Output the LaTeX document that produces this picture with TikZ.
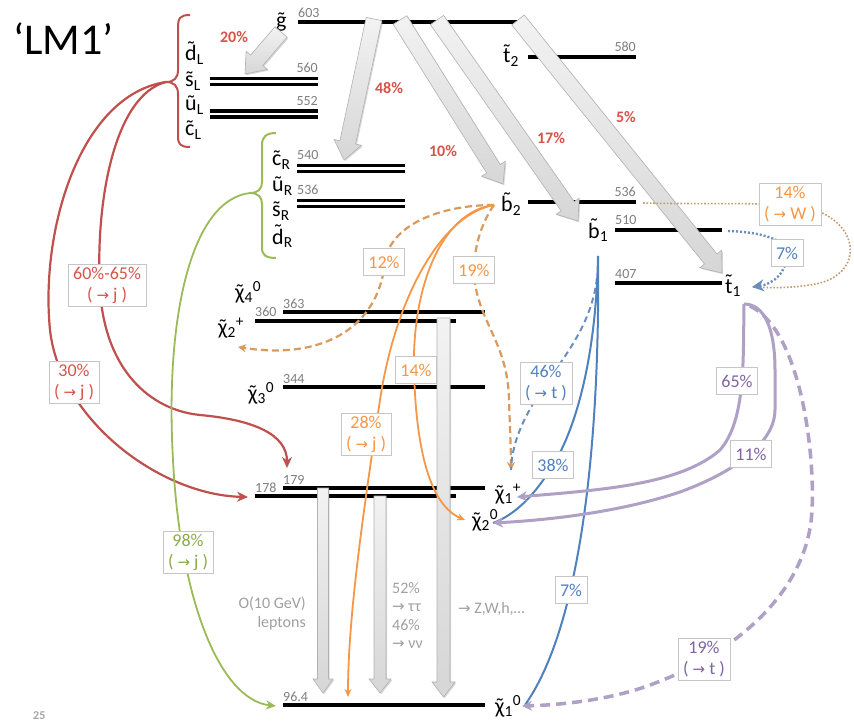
\documentclass[tikz,border=0pt]{standalone}
\usepackage{fontspec}
\setmainfont{Carlito}
\newfontfamily\arrowfont{DejaVu Sans}
\usetikzlibrary{calc,arrows.meta,shadows}
\definecolor{cred}{HTML}{C0504D}
\definecolor{credt}{HTML}{DA524C}
\definecolor{cgreen}{HTML}{9BBB59}
\definecolor{cgreent}{HTML}{8AAA4A}
\definecolor{corange}{HTML}{F79646}
\definecolor{cordash}{HTML}{D99A5E}
\definecolor{cbrown}{HTML}{C49A6C}
\definecolor{cblue}{HTML}{4F81BD}
\definecolor{cbluedash}{HTML}{6A8FBF}
\definecolor{cpurple}{HTML}{AFA0C6}
\definecolor{cpurplet}{HTML}{8064A2}
\definecolor{cnum}{HTML}{7F7F7F}
\definecolor{cgraytext}{HTML}{A0A0A0}
\newcommand{\sqt}[1]{{\accent"02DC #1}}
\newcommand{\rarr}{{\arrowfont\fontsize{15}{15}\selectfont →}}
\newcommand{\fatarrow}[5]{%
  \coordinate (fa-s) at #1; \coordinate (fa-t) at #2;
  \coordinate (fa-h) at ($(fa-t)!#5!(fa-s)$);
  \path[fat] ($(fa-s)!#3!90:(fa-t)$) -- ($(fa-h)!#3!-90:(fa-s)$) -- ($(fa-h)!#4!-90:(fa-s)$) -- (fa-t) -- ($(fa-h)!#4!90:(fa-s)$) -- ($(fa-h)!#3!90:(fa-s)$) -- ($(fa-s)!#3!-90:(fa-t)$) -- cycle;}
\begin{document}
\begin{tikzpicture}[x=1pt,y=-1pt,
  lvl/.style={line width=3.5pt,black},
  numlab/.style={font=\fontsize{14}{14}\selectfont,text=cnum,inner sep=0pt},
  part/.style={font=\fontsize{22}{22}\selectfont,inner sep=0pt},
  redpct/.style={font=\bfseries\fontsize{16}{16}\selectfont,text=credt,inner sep=0pt},
  lab/.style={draw=gray!45,fill=white,line width=0.6pt,inner xsep=5pt,inner ysep=3pt,align=center,font=\fontsize{18}{21}\selectfont,minimum height=27pt},
  graytxt/.style={font=\fontsize{16}{18.5}\selectfont,text=cgraytext,inner sep=0pt},
  fat/.style={draw=gray!60,line width=0.6pt,top color=gray!10,bottom color=gray!32,drop shadow={shadow xshift=1.2pt,shadow yshift=-1.2pt,opacity=0.3}},
  redc/.style={draw=cred,line width=2.2pt,-{Stealth[length=11pt,width=10pt]}},
  greenc/.style={draw=cgreen,line width=1.8pt,-{Stealth[length=10pt,width=9pt]}},
  orsolid/.style={draw=corange,line width=1.8pt,-{Stealth[length=8pt,width=7pt]}},
  ordash/.style={draw=cordash,line width=2.2pt,dash pattern=on 7pt off 4pt,-{Stealth[length=8pt,width=8pt]}},
  brdot/.style={draw=cbrown,line width=1.6pt,dash pattern=on 1.6pt off 1.8pt},
  bldot/.style={draw=cbluedash,line width=2.4pt,dash pattern=on 2pt off 2pt,-{Stealth[length=12pt,width=12pt]}},
  bldash/.style={draw=cbluedash,line width=2pt,dash pattern=on 6pt off 4pt},
  blsolid/.style={draw=cblue,line width=2pt},
  pusolid/.style={draw=cpurple,line width=3pt,-{Stealth[length=10pt,width=10pt]}},
  pudash/.style={draw=cpurple,line width=3.5pt,dash pattern=on 10pt off 6pt,-{Stealth[length=10pt,width=10pt]}}
]
\fill[white] (0,0) rectangle (854,722);
\useasboundingbox (0,0) rectangle (854,722);

% ---------- levels ----------
\draw[lvl] (298,22) -- (518,22);
\draw[lvl] (528,57) -- (636,57);
\draw[lvl] (210,78.5) -- (318,78.5); \draw[lvl] (210,84.5) -- (318,84.5);
\draw[lvl] (210,111) -- (318,111); \draw[lvl] (210,117) -- (318,117);
\draw[lvl] (297,165.5) -- (405,165.5); \draw[lvl] (297,171.5) -- (405,171.5);
\draw[lvl] (297,200.5) -- (405,200.5); \draw[lvl] (297,206.5) -- (405,206.5);
\draw[lvl] (528,202) -- (636,202);
\draw[lvl] (615,230) -- (722,230);
\draw[lvl] (615,283) -- (722,283);
\draw[lvl] (283,312) -- (485,312);
\draw[lvl] (255,321) -- (456,321);
\draw[lvl] (283,387) -- (485,387);
\draw[lvl] (283,488) -- (485,488);
\draw[lvl] (255,496) -- (456,496);
\draw[lvl] (283,705) -- (485,705);

% ---------- numbers ----------
\node[numlab,anchor=base west] (n603) at (298,18) {603};
\node[numlab,anchor=base east] (n580) at (636,52) {580};
\node[numlab,anchor=base east] (n560) at (318,73) {560};
\node[numlab,anchor=base east] (n552) at (318,106) {552};
\node[numlab,anchor=base west] (n540) at (297,160) {540};
\node[numlab,anchor=base west] (n536a) at (297,195) {536};
\node[numlab,anchor=base east] (n536b) at (636,197) {536};
\node[numlab,anchor=base west] (n510) at (615,225) {510};
\node[numlab,anchor=base west] (n407) at (615,278) {407};
\node[numlab,anchor=base west] (n363) at (283,308) {363};
\node[numlab,anchor=base west] (n360) at (255,316) {360};
\node[numlab,anchor=base west] (n344) at (283,383) {344};
\node[numlab,anchor=base west] (n179) at (283,484) {179};
\node[numlab,anchor=base west] (n178) at (255,492) {178};
\node[numlab,anchor=base west] (n964) at (283,701) {96.4};

% ---------- particle labels ----------
\node[part,anchor=base west] (gl) at (276,28) {\sqt{g}};
\node[part,anchor=base west] (t2) at (503,63) {\sqt{t}\textsubscript{2}};
\node[part,anchor=base west] (dL) at (185,61) {\sqt{d}\textsubscript{L}};
\node[part,anchor=base west] (sL) at (185,87) {\sqt{s}\textsubscript{L}};
\node[part,anchor=base west] (uL) at (185,111) {\sqt{u}\textsubscript{L}};
\node[part,anchor=base west] (cL) at (185,136) {\sqt{c}\textsubscript{L}};
\node[part,anchor=base west] (cR) at (272,166) {\sqt{c}\textsubscript{R}};
\node[part,anchor=base west] (uR) at (272,192) {\sqt{u}\textsubscript{R}};
\node[part,anchor=base west] (sR) at (272,217) {\sqt{s}\textsubscript{R}};
\node[part,anchor=base west] (dR) at (272,244) {\sqt{d}\textsubscript{R}};
\node[part,anchor=base west] (b2) at (501,212) {\sqt{b}\textsubscript{2}};
\node[part,anchor=base west] (b1) at (588,238) {\sqt{b}\textsubscript{1}};
\node[part,anchor=base west] (t1) at (725,293) {\sqt{t}\textsubscript{1}};
\node[part,anchor=base west] (x40) at (235,299) {\sqt{χ}\textsubscript{4}\textsuperscript{0}};
\node[part,anchor=base west] (x2p) at (218,334) {\sqt{χ}\textsubscript{2}\textsuperscript{+}};
\node[part,anchor=base west] (x30) at (248,400) {\sqt{χ}\textsubscript{3}\textsuperscript{0}};
\node[part,anchor=base west] (x1p) at (495,500) {\sqt{χ}\textsubscript{1}\textsuperscript{+}};
\node[part,anchor=base west] (x20) at (472,527) {\sqt{χ}\textsubscript{2}\textsuperscript{0}};
\node[part,anchor=base west] (x10) at (495,713) {\sqt{χ}\textsubscript{1}\textsuperscript{0}};

% ---------- title ----------
\node[font=\fontsize{44}{44}\selectfont,anchor=base west,inner sep=0pt] (title) at (13,55) {‘LM1’};
\node[font=\bfseries\fontsize{12}{12}\selectfont,text=gray!70,anchor=base west,inner sep=0pt] (pg) at (33,719) {25};

% ---------- braces ----------
\coordinate (redtip) at (166,82);
\coordinate (greentip) at (250,193);
\draw[cred,line width=2pt] (190,15) .. controls (180,15) and (178,18) .. (178,28) -- (178,70) .. controls (178,78) and (174,82) .. (redtip) .. controls (174,82) and (178,86) .. (178,94) -- (178,136) .. controls (178,144) and (180,147) .. (190,147);
\draw[cgreen,line width=2pt] (276,133) .. controls (266,133) and (262,137) .. (262,145) -- (262,182) .. controls (262,189) and (258,193) .. (greentip) .. controls (258,193) and (262,197) .. (262,204) -- (262,248) .. controls (262,255) and (266,258) .. (276,258);

% ---------- fat gray arrows ----------
\fatarrow{(281,32)}{(245,74)}{8pt}{14pt}{18pt}
\fatarrow{(374,19)}{(344,160)}{8pt}{14pt}{18pt}
\fatarrow{(400,20)}{(503,184)}{8pt}{14pt}{18pt}
\fatarrow{(437,20)}{(578,221)}{8pt}{14pt}{18pt}
\fatarrow{(518,20)}{(722,273)}{8pt}{14pt}{18pt}
\fatarrow{(323,488)}{(323,693)}{5.5pt}{10pt}{14pt}
\fatarrow{(380,496)}{(380,693)}{6pt}{11pt}{14pt}
\fatarrow{(443.5,318)}{(443.5,697)}{6.5pt}{11.5pt}{15pt}

% ---------- red percentages ----------
\node[redpct] (p20) at (234,37) {20\%};
\node[redpct] (p48) at (389,88) {48\%};
\node[redpct] (p10) at (443,151) {10\%};
\node[redpct] (p17) at (551,138) {17\%};
\node[redpct] (p5) at (626,117) {5\%};

% ---------- gray texts ----------
\node[graytxt,anchor=north east,align=right] (lept) at (306,597) {O(10 GeV)\\leptons};
\node[graytxt,anchor=north west,align=left] (tautau) at (392,582) {52\%\\\rarr\ ττ\\46\%\\\rarr\ νν};
\node[graytxt,anchor=base west] (zwh) at (458,613) {\rarr\ Z,W,h,…};

% ---------- coordinates ----------
\coordinate (b2o) at (494,205);
\coordinate (b2end) at (643,203);
\coordinate (b1o) at (598,256);
\coordinate (b1o2) at (597,278);
\coordinate (b1end) at (728,231);
\coordinate (t1o) at (744,304);
\coordinate (t1o2) at (750,306);
\coordinate (t1in) at (752,287);
\coordinate (x20in) at (248,497);
\coordinate (x1pin) at (287,468);
\coordinate (x10in) at (276,706);
\coordinate (x2pin) at (238,347);
\coordinate (x1ptop) at (511,470);
\coordinate (x10o) at (348,697);
\coordinate (x20o) at (465,520);
\coordinate (x20r) at (493,523);
\coordinate (x10r) at (525,705);
\coordinate (x1pr) at (517,497);
\coordinate (x10r2) at (522,706);

% ---------- squark decays ----------
\draw[redc] (redtip) .. controls (80,95) and (40,230) .. (50,330) .. controls (60,420) and (160,495) .. (x20in);
\draw[redc] (redtip) .. controls (115,95) and (95,200) .. (100,290) .. controls (105,370) and (150,410) .. (200,415) .. controls (255,420) and (287,435) .. (x1pin);
\draw[greenc] (greentip) .. controls (190,200) and (165,320) .. (173,460) .. controls (180,600) and (220,700) .. (x10in);

% ---------- sbottom2 decays ----------
\draw[ordash] (b2o) .. controls (440,205) and (390,225) .. (385,262) .. controls (378,330) and (320,360) .. (x2pin);
\draw[ordash] (b2o) .. controls (480,225) and (474,250) .. (474,270) .. controls (475,320) and (508,340) .. (509,400) .. controls (510,430) and (511,450) .. (x1ptop);
\draw[orsolid] (b2o) .. controls (440,215) and (395,300) .. (380,400) .. controls (362,520) and (348,620) .. (x10o);
\draw[orsolid] (b2o) .. controls (440,212) and (412,290) .. (414,370) .. controls (416,450) and (430,505) .. (x20o);
\draw[brdot] (b2end) .. controls (720,205) and (790,200) .. (820,212) .. controls (862,230) and (862,278) .. (810,285) .. controls (790,288) and (772,288) .. (t1in);

% ---------- sbottom1 decays ----------
\draw[bldot] (b1end) .. controls (762,232) and (787,240) .. (787,253) .. controls (787,272) and (774,284) .. (t1in);
\draw[bldash] (b1o2) .. controls (592,320) and (570,350) .. (546,383) .. controls (525,415) and (512,440) .. (x1ptop);
\draw[blsolid] (b1o) .. controls (596,360) and (575,430) .. (553,465) .. controls (535,495) and (515,515) .. (x20r);
\draw[blsolid] (b1o) .. controls (600,420) and (585,620) .. (x10r);

% ---------- stop1 decays ----------
\draw[pusolid] (t1o) .. controls (743,360) and (746,420) .. (720,450) .. controls (680,485) and (600,490) .. (x1pr);
\draw[pusolid] (t1o) .. controls (765,304) and (775,330) .. (775,370) -- (775,410) .. controls (775,440) and (740,470) .. (680,492) .. controls (620,512) and (550,520) .. (x20r);
\draw[pudash] (t1o2) .. controls (800,330) and (815,450) .. (812,510) .. controls (808,600) and (720,660) .. (650,685) .. controls (610,700) and (560,705) .. (x10r2);

% ---------- labels ----------
\node[lab,text=credt] (l6065) at (107,285) {60\%-65\%\\( \rarr\ j )};
\node[lab,text=credt] (l30) at (74,382) {30\%\\( \rarr\ j )};
\node[lab,text=cgreent] (l98) at (188,552) {98\%\\( \rarr\ j )};
\node[lab,text=corange] (l12) at (384,262) {12\%};
\node[lab,text=corange] (l19) at (474,270) {19\%};
\node[lab,text=corange] (l14) at (416,370) {14\%};
\node[lab,text=corange] (l28) at (366,434) {28\%\\( \rarr\ j )};
\node[lab,text=corange] (l14w) at (790,204) {14\%\\( \rarr\ W )};
\node[lab,text=cblue] (l7a) at (787,253) {7\%};
\node[lab,text=cblue] (l46) at (546,383) {46\%\\( \rarr\ t )};
\node[lab,text=cblue] (l38) at (553,465) {38\%};
\node[lab,text=cblue] (l7b) at (571,590) {7\%};
\node[lab,text=cpurplet] (l65) at (737,381) {65\%};
\node[lab,text=cpurplet] (l11) at (751,454) {11\%};
\node[lab,text=cpurplet] (l19t) at (704,659) {19\%\\( \rarr\ t )};
\end{tikzpicture}
\end{document}
